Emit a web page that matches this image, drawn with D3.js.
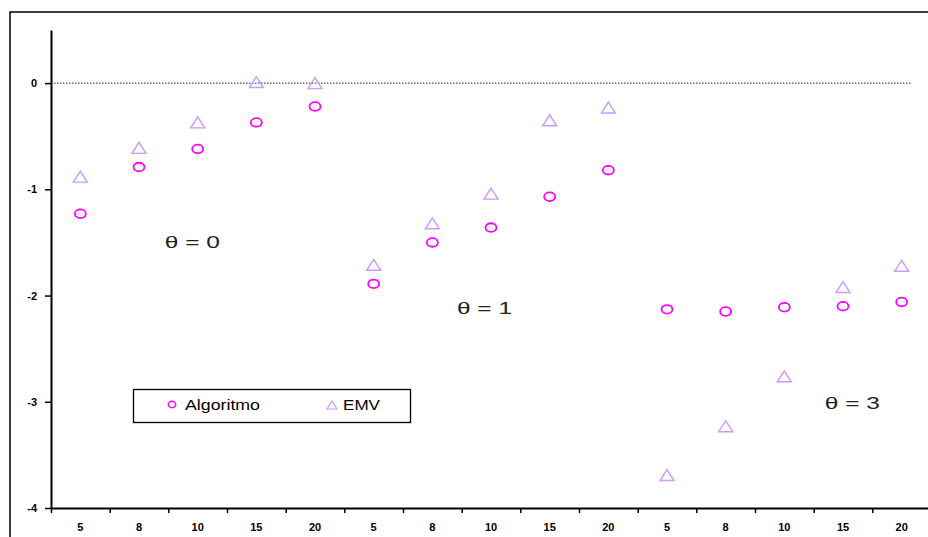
<!DOCTYPE html>
<html>
<head>
<meta charset="utf-8">
<script src="https://cdn.jsdelivr.net/npm/d3@7"></script>
<style>
  html, body { margin: 0; padding: 0; background: #fff; }
  svg { display: block; font-family: "Liberation Sans", Arial, sans-serif; }
</style>
</head>
<body>
<svg id="chart" width="928" height="537"></svg>
<script>
// Sample sizes, repeated for each theta group
const categories = ["5", "8", "10", "15", "20", "5", "8", "10", "15", "20", "5", "8", "10", "15", "20"];
const algoritmo = [-1.23, -0.79, -0.62, -0.37, -0.22, -1.89, -1.50, -1.36, -1.07, -0.82, -2.13, -2.15, -2.11, -2.10, -2.06];
const emv = [-0.88, -0.61, -0.37, 0.01, 0.00, -1.71, -1.32, -1.04, -0.35, -0.23, -3.69, -3.23, -2.76, -1.92, -1.72];
const yTicks = [0, -1, -2, -3, -4];
// group captions, anchored at a (fractional) category position and a value
const groupLabels = [
  { text: "θ = 0", pos: 1.94, value: -1.55 },
  { text: "θ = 1", pos: 6.92, value: -2.17 },
  { text: "θ = 3", pos: 13.19, value: -3.07 }
];
const seriesNames = ["Algoritmo", "EMV"];

const svg = d3.select("#chart");
const colAlg = "#ff00ff";
const colEmv = "#cc99ff";

// outer frame
svg.append("rect")
  .attr("x", 10).attr("y", 12)
  .attr("width", 940).attr("height", 560)
  .attr("fill", "none").attr("stroke", "#000").attr("stroke-width", 1.5);

const x = d3.scaleBand().domain(d3.range(categories.length)).range([51, 931]);
const xEdge = d3.scaleLinear().domain([0, categories.length]).range([51, 931]);
const y = d3.scaleLinear().domain([-4, 0.5]).range([508, 30]);

// zero reference line
svg.append("line")
  .attr("x1", 51).attr("x2", 912)
  .attr("y1", y(0)).attr("y2", y(0))
  .attr("stroke", "#222").attr("stroke-width", 1)
  .attr("stroke-dasharray", "1.5,1.5");

// y axis
const yAxis = svg.append("g")
  .attr("transform", "translate(51,0)")
  .call(d3.axisLeft(y).tickValues(yTicks).tickSize(6).tickSizeOuter(0).tickPadding(8)
    .tickFormat(d => String(d)));
yAxis.select(".domain").attr("stroke", "#000").attr("stroke-width", 2);
yAxis.selectAll(".tick line").attr("stroke", "#000").attr("stroke-width", 1.5);
yAxis.selectAll("text").attr("font-size", 11).attr("font-weight", "bold")
  .attr("font-family", "Liberation Sans, Arial, sans-serif").attr("fill", "#000");

// x axis: boundary ticks
const xTicks = svg.append("g")
  .attr("transform", "translate(0,508)")
  .call(d3.axisBottom(xEdge).tickValues(d3.range(categories.length + 1)).tickSize(5)
    .tickSizeOuter(0).tickFormat(""));
xTicks.select(".domain").attr("stroke", "#000").attr("stroke-width", 2);
xTicks.selectAll(".tick line").attr("stroke", "#000").attr("stroke-width", 1.5);

// x axis: category labels
const xLabels = svg.append("g")
  .attr("transform", "translate(0,508)")
  .call(d3.axisBottom(x).tickSize(0).tickPadding(15).tickFormat(i => categories[i]));
xLabels.select(".domain").remove();
xLabels.selectAll("text").attr("font-size", 11).attr("font-weight", "bold")
  .attr("font-family", "Liberation Sans, Arial, sans-serif").attr("fill", "#000");

const cx = i => x(i) + x.bandwidth() / 2;

// triangle outline centred on its bounding box
const tri = (w, h) => `M0,${-h / 2}L${w / 2},${h / 2}L${-w / 2},${h / 2}Z`;

// EMV markers
svg.append("g").selectAll("path")
  .data(emv)
  .join("path")
  .attr("transform", (d, i) => `translate(${cx(i)},${y(d)})`)
  .attr("d", tri(14, 11))
  .attr("fill", "none").attr("stroke", colEmv).attr("stroke-width", 1.4);

// Algoritmo markers
svg.append("g").selectAll("ellipse")
  .data(algoritmo)
  .join("ellipse")
  .attr("cx", (d, i) => cx(i)).attr("cy", d => y(d))
  .attr("rx", 5.5).attr("ry", 4.3)
  .attr("fill", "none").attr("stroke", colAlg).attr("stroke-width", 1.8);

// theta group labels
svg.append("g").selectAll("text")
  .data(groupLabels)
  .join("text")
  .attr("x", d => xEdge(d.pos)).attr("y", d => y(d.value))
  .attr("font-size", 16).attr("fill", "#222")
  .attr("textLength", 55).attr("lengthAdjust", "spacingAndGlyphs")
  .text(d => d.text);

// legend
const lg = svg.append("g");
lg.append("rect")
  .attr("x", 133.5).attr("y", 389.5).attr("width", 277).attr("height", 33)
  .attr("fill", "#fff").attr("stroke", "#000").attr("stroke-width", 1.3);
lg.append("ellipse")
  .attr("cx", 172).attr("cy", 404.5).attr("rx", 3.7).attr("ry", 3.2)
  .attr("fill", "none").attr("stroke", colAlg).attr("stroke-width", 1.5);
lg.append("text")
  .attr("x", 185).attr("y", 410)
  .attr("font-size", 15).attr("fill", "#000")
  .attr("textLength", 75).attr("lengthAdjust", "spacingAndGlyphs")
  .text(seriesNames[0]);
lg.append("path")
  .attr("transform", "translate(332,405)")
  .attr("d", tri(10, 8))
  .attr("fill", "none").attr("stroke", colEmv).attr("stroke-width", 1.2);
lg.append("text")
  .attr("x", 343).attr("y", 410)
  .attr("font-size", 15).attr("fill", "#000")
  .attr("textLength", 37).attr("lengthAdjust", "spacingAndGlyphs")
  .text(seriesNames[1]);
</script>
</body>
</html>
